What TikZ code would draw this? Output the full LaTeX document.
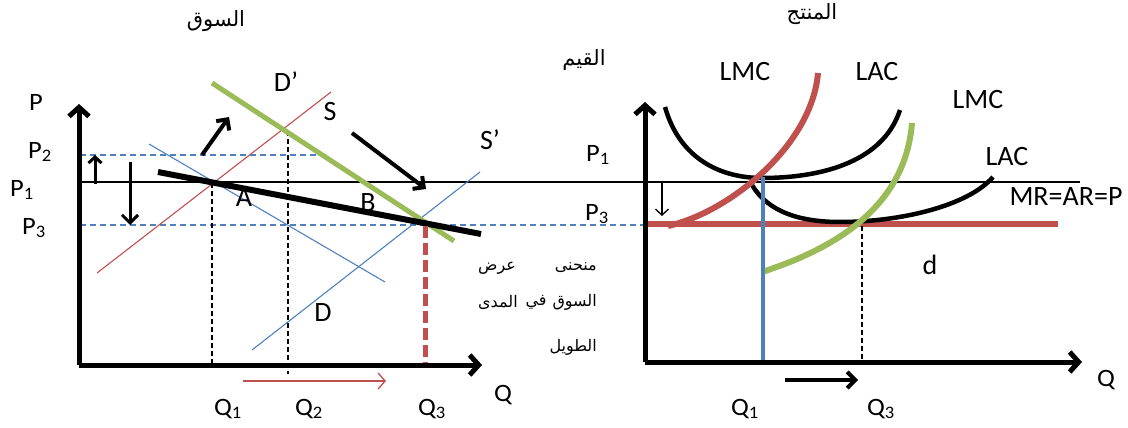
\documentclass[tikz,border=0pt]{standalone}
\usepackage{fontspec}
\setmainfont{Carlito}
\newfontfamily\lblfont[FakeStretch=1.06]{Carlito}
\newfontfamily\arabicfont[Script=Arabic]{DejaVu Sans}
\TeXXeTstate=1
\usetikzlibrary{arrows.meta}
\definecolor{cred}{RGB}{192,80,77}
\definecolor{cblue}{RGB}{79,129,189}
\definecolor{cgreen}{RGB}{155,187,89}
\tikzset{
  axis/.style={line width=5pt, -{Straight Barb[length=9pt,width=20pt,line width=5pt]}},
  thinblk/.style={line width=1.1pt},
  thinred/.style={line width=1.1pt, draw=cred},
  thinblue/.style={line width=1.1pt, draw=cblue},
  bdash/.style={line width=1.1pt, draw=cblue, dash pattern=on 6pt off 4pt},
  kdash/.style={line width=1.1pt, dash pattern=on 5pt off 3pt},
  bigarrow/.style={line width=4pt, -{Straight Barb[length=8pt,width=16pt,line width=4pt]}},
  lbl/.style={font=\lblfont\fontsize{25}{28}\selectfont, inner sep=0pt},
  big/.style={font=\fontsize{28}{32}\selectfont, inner sep=0pt},
  arb/.style={font=\arabicfont\fontsize{16}{19}\selectfont, inner sep=0pt},
  arbt/.style={font=\arabicfont\fontsize{21}{24}\selectfont, inner sep=0pt},
}
\begin{document}
\begin{tikzpicture}[x=1pt,y=-1pt]
\useasboundingbox (0,0) rectangle (1128,428);
% ---------- titles
\node[arbt] (t1) at (216,21) {\beginR السوق\endR};
\node[arbt] (t2) at (812,14) {\beginR المنتج\endR};
\node[arbt] (t3) at (584,60) {\beginR القيم\endR};
% ---------- left graph coordinates
\coordinate (Lo) at (79,365);
\coordinate (Ly) at (79,104);
\coordinate (Lx) at (482,365);
\coordinate (P2a) at (80,155);
\coordinate (P2b) at (326,155);
\coordinate (P1a) at (80,182);
\coordinate (P1b) at (1080,182);
\coordinate (P3a) at (80,225);
\coordinate (P3b) at (643,225);
% thin curves
\coordinate (Sa) at (97,273);
\coordinate (Sb) at (331,92);
\coordinate (Da) at (149,144);
\coordinate (Db) at (385,282);
\coordinate (Spa) at (252,350);
\coordinate (Spb) at (480,172);
\coordinate (Dpa) at (212,83);
\coordinate (Dpb) at (454,241);
\coordinate (LRa) at (158,172);
\coordinate (LRb) at (481,234);
% dashed verticals
\coordinate (Q1t) at (212,183);
\coordinate (Q1b) at (212,363);
\coordinate (Q2t) at (288,131);
\coordinate (Q2b) at (288,374);
\coordinate (Q3t) at (425,226);
\coordinate (Q3b) at (425,364);
% arrows
\coordinate (ua) at (95,184);
\coordinate (ub) at (95,155);
\coordinate (da) at (130,162);
\coordinate (db) at (130,225);
\coordinate (rqa) at (243,381);
\coordinate (rqb) at (386,381);
\coordinate (ura) at (202,155);
\coordinate (urb) at (229,117);
\coordinate (dra) at (352,133);
\coordinate (drb) at (426,189);

\draw[bdash] (P2a) -- (P2b);
\draw[bdash] (P3a) -- (P3b);
\draw[thinblk] (P1a) -- (P1b);
\draw[kdash] (Q1t) -- (Q1b);
\draw[kdash] (Q2t) -- (Q2b);
\draw[thinred] (Sa) -- (Sb);
\draw[thinblue] (Da) -- (Db);
\draw[thinblue] (Spa) -- (Spb);
\draw[line width=5pt, draw=cgreen] (Dpa) -- (Dpb);
\draw[line width=6pt] (LRa) -- (LRb);
\draw[line width=5pt, draw=cred, dash pattern=on 12pt off 5pt] (Q3t) -- (Q3b);
\draw[axis] (Lo) -- (Ly);
\draw[axis] (Lo) -- (Lx);
\draw[line width=3pt, -{Straight Barb[length=6pt,width=13pt,line width=3pt]}] (ua) -- (ub);
\draw[line width=3pt, -{Straight Barb[length=8pt,width=16pt,line width=3pt]}] (da) -- (db);
\draw[line width=1.3pt, draw=cred, -{Straight Barb[length=7pt,width=16pt,line width=1.3pt]}] (rqa) -- (rqb);
\draw[bigarrow] (ura) -- (urb);
\draw[bigarrow] (dra) -- (drb);

% labels left
\node[lbl] (lP) at (36,102) {P};
\node[lbl] (lP2) at (40,152) {P\textsubscript{2}};
\node[lbl] (lP1) at (22,190) {P\textsubscript{1}};
\node[lbl] (lP3) at (34,228) {P\textsubscript{3}};
\node[big] (lDp) at (286,82) {D’};
\node[big] (lS) at (330,112) {S};
\node[big] (lSp) at (490,140) {S’};
\node[big] (lA) at (244,198) {A};
\node[big] (lB) at (368,203) {B};
\node[big] (lD) at (323,313) {D};
\node[lbl] (lQ1) at (228,409) {Q\textsubscript{1}};
\node[lbl] (lQ2) at (309,409) {Q\textsubscript{2}};
\node[lbl] (lQ3) at (432,409) {Q\textsubscript{3}};
\node[lbl] (lQ) at (503,395) {Q};
% arabic note
\node[arb, anchor=east] (n1) at (597,268) {\beginR منحنى\endR};
\node[arb, anchor=west] (n2) at (478,268) {\beginR عرض\endR};
\node[arb, anchor=east] (n3) at (597,302) {\beginR السوق\endR};
\node[arb] (n4) at (536,302) {\beginR في\endR};
\node[arb, anchor=west] (n5) at (478,302) {\beginR المدى\endR};
\node[arb, anchor=east] (n6) at (597,347) {\beginR الطويل\endR};

% ---------- right graph
\coordinate (Ro) at (645,362);
\coordinate (Ry) at (645,102);
\coordinate (Rx) at (1082,362);
\coordinate (MRa) at (645,224);
\coordinate (MRb) at (1058,224);
\coordinate (LMa) at (668,226);
\coordinate (LMb) at (818,73);
\coordinate (LAa) at (665,107);
\coordinate (LAm) at (762,178);
\coordinate (LAb) at (900,110);
\coordinate (LBa) at (752,185);
\coordinate (LBm) at (840,222);
\coordinate (LBb) at (993,177);
\coordinate (Ga) at (762,272);
\coordinate (Gb) at (912,123);
\coordinate (BVt) at (763,177);
\coordinate (BVb) at (763,362);
\coordinate (RQ3t) at (862,226);
\coordinate (RQ3b) at (862,362);
\coordinate (sda) at (662,183);
\coordinate (sdb) at (662,216);
\coordinate (rqa2) at (785,380);
\coordinate (rqb2) at (858,380);

\draw[line width=6pt, draw=cred] (MRa) -- (MRb);
\draw[kdash] (RQ3t) -- (RQ3b);
\draw[line width=4.5pt] (LAa) .. controls (680,160) and (722,178) .. (LAm)
   .. controls (815,178) and (882,165) .. (LAb);
\draw[line width=4.5pt] (LBa) .. controls (768,212) and (800,222) .. (LBm)
   .. controls (900,222) and (968,206) .. (LBb);
\draw[line width=6pt, draw=cgreen] (Ga) .. controls (830,250) and (905,210) .. (Gb);
\draw[line width=6pt, draw=cred] (LMa) .. controls (730,212) and (812,145) .. (LMb);
\draw[line width=4pt, draw=cblue] (BVt) -- (BVb);
\draw[axis] (Ro) -- (Ry);
\draw[axis] (Ro) -- (Rx);
\draw[line width=1.3pt, -{Straight Barb[length=6pt,width=13pt,line width=1.3pt]}] (sda) -- (sdb);
\draw[bigarrow] (rqa2) -- (rqb2);

\node[big] (rLMC1) at (745,72) {LMC};
\node[big] (rLAC1) at (877,72) {LAC};
\node[big] (rLMC2) at (978,100) {LMC};
\node[big] (rLAC2) at (1007,157) {LAC};
\node[big] (rMR) at (1066,197) {MR=AR=P};
\node[lbl] (rP1) at (598,155) {P\textsubscript{1}};
\node[lbl] (rP3) at (597,214) {P\textsubscript{3}};
\node[big] (rd) at (930,265) {d};
\node[lbl] (rQ1) at (745,409) {Q\textsubscript{1}};
\node[lbl] (rQ3) at (881,409) {Q\textsubscript{3}};
\node[lbl] (rQ) at (1106,380) {Q};
\end{tikzpicture}
\end{document}
